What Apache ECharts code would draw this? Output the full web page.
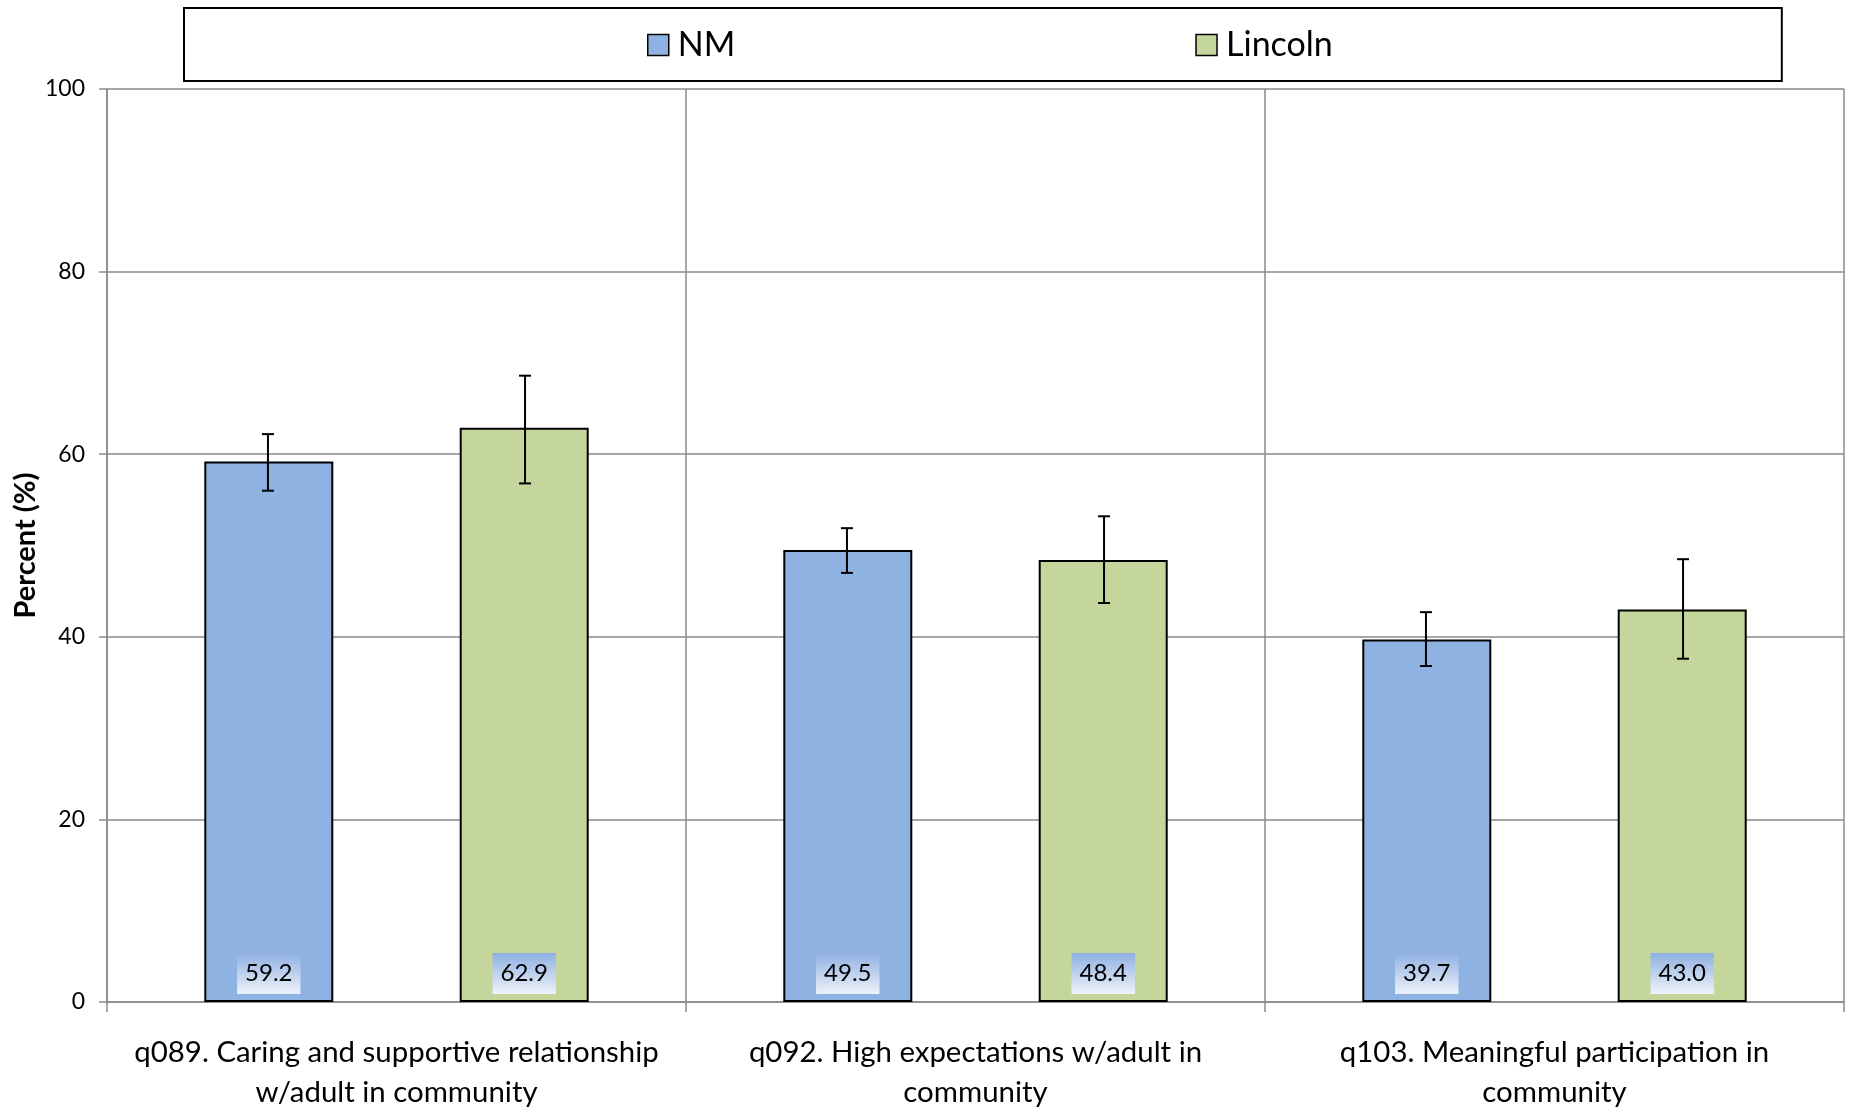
<!DOCTYPE html>
<html>
<head>
<meta charset="utf-8">
<script src="https://cdn.jsdelivr.net/npm/echarts@6/dist/echarts.min.js"></script>
<style>
html,body{margin:0;padding:0;background:#fff;}
#chart{width:1851px;height:1109px;}
</style>
</head>
<body>
<div id="chart"></div>
<script>
const categories = [
  'q089. Caring and supportive relationship\nw/adult in community',
  'q092. High expectations w/adult in\ncommunity',
  'q103. Meaningful participation in\ncommunity'
];
const nmValues = [59.2, 49.5, 39.7];
const nmLow = [56.0, 47.0, 36.8];
const nmHigh = [62.2, 51.9, 42.7];
const lincolnValues = [62.9, 48.4, 43.0];
const lincolnLow = [56.8, 43.7, 37.6];
const lincolnHigh = [68.6, 53.2, 48.5];
const yTicks = [0, 20, 40, 60, 80, 100];

const FONT = 'Lato';
const chart = echarts.init(document.getElementById('chart'));

const labelBg = {
  type: 'linear', x: 0, y: 0, x2: 0, y2: 1,
  colorStops: [{offset: 0, color: '#8fb0e2'}, {offset: 1, color: '#eef2fa'}]
};

function barLabel() {
  return {
    show: true, position: 'insideBottom', distance: 8,
    formatter: p => p.value.toFixed(1),
    color: '#000', fontFamily: FONT, fontSize: 24, lineHeight: 27,
    backgroundColor: labelBg, padding: [7, 8]
  };
}

function errSeries(name, low, high, sign) {
  return {
    type: 'custom', name: name, z: 10, silent: true,
    renderItem: function (params, api) {
      const i = api.value(0);
      const band = api.size([1, 0])[0];
      const top = api.coord([i, api.value(2)]);
      const bot = api.coord([i, api.value(1)]);
      const x = top[0] + sign * band * 0.222;
      const cap = 6;
      const st = {stroke: '#000', lineWidth: 2};
      return {type: 'group', children: [
        {type: 'line', shape: {x1: x, y1: top[1], x2: x, y2: bot[1]}, style: st},
        {type: 'line', shape: {x1: x - cap, y1: top[1], x2: x + cap, y2: top[1]}, style: st},
        {type: 'line', shape: {x1: x - cap, y1: bot[1], x2: x + cap, y2: bot[1]}, style: st}
      ]};
    },
    data: categories.map((c, i) => [i, low[i], high[i]])
  };
}

chart.setOption({
  animation: false,
  textStyle: {fontFamily: FONT},
  legend: {
    data: ['NM', 'Lincoln'],
    left: 184, top: 8,
    padding: [20, 449, 19, 463],
    borderColor: '#000', borderWidth: 2,
    itemWidth: 21, itemHeight: 21, itemGap: 460,
    icon: 'rect',
    itemStyle: {borderColor: '#000', borderWidth: 1.5},
    textStyle: {fontSize: 34, color: '#000', fontFamily: FONT, padding: [0, 0, 0, 4]}
  },
  grid: {left: 107, right: 7, top: 89, bottom: 107, containLabel: false, outerBoundsMode: 'none'},
  xAxis: {
    type: 'category', data: categories,
    axisLine: {lineStyle: {color: '#8a8a8a', width: 1.5}},
    axisTick: {show: true, length: 10, alignWithLabel: false, lineStyle: {color: '#8a8a8a', width: 1.5}},
    splitLine: {show: true, interval: 0, lineStyle: {color: '#8a8a8a', width: 1.5}},
    axisLabel: {interval: 0, margin: 31, color: '#000', fontSize: 29.4, lineHeight: 40, fontFamily: FONT}
  },
  yAxis: {
    type: 'value', min: 0, max: 100, interval: 20,
    name: 'Percent (%)', nameLocation: 'middle', nameGap: 67, nameMoveOverlap: false,
    nameTextStyle: {fontSize: 29, fontWeight: 'bold', color: '#000', fontFamily: FONT},
    axisLine: {show: true, lineStyle: {color: '#8a8a8a', width: 1.5}},
    axisTick: {show: true, length: 8, lineStyle: {color: '#8a8a8a', width: 1.5}},
    splitLine: {show: true, lineStyle: {color: '#8a8a8a', width: 1.5}},
    axisLabel: {margin: 22, color: '#000', fontSize: 23, fontFamily: FONT,
      formatter: v => yTicks.includes(v) ? String(v) : ''}
  },
  series: [
    {
      name: 'NM', type: 'bar', data: nmValues,
      barWidth: 129, barGap: '98%',
      itemStyle: {color: '#8eb3e2', borderColor: '#000', borderWidth: 2},
      label: barLabel()
    },
    {
      name: 'Lincoln', type: 'bar', data: lincolnValues,
      barWidth: 129, barGap: '98%',
      itemStyle: {color: '#c4d69b', borderColor: '#000', borderWidth: 2},
      label: barLabel()
    },
    errSeries('NM error', nmLow, nmHigh, -1),
    errSeries('Lincoln error', lincolnLow, lincolnHigh, 1)
  ]
});
</script>
</body>
</html>
